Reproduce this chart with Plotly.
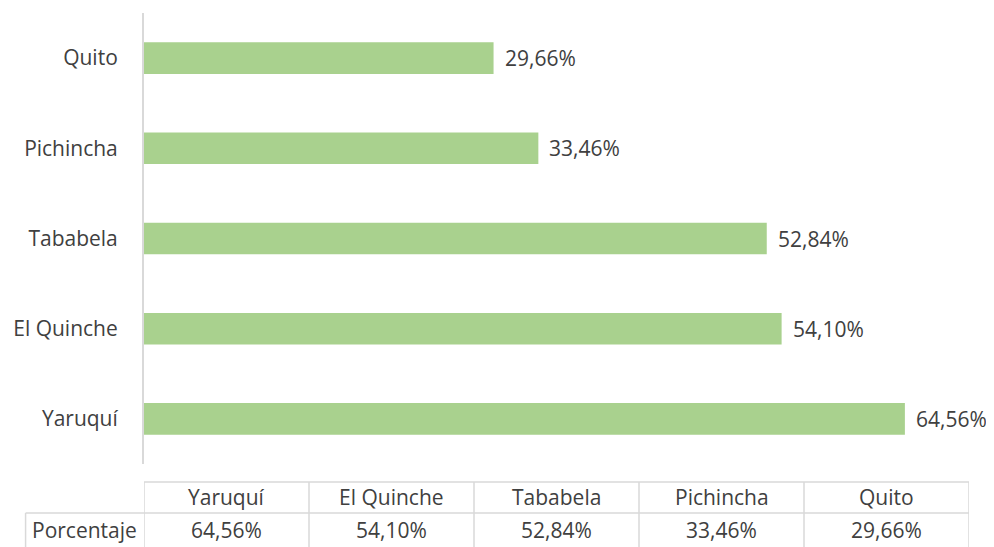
import plotly.graph_objects as go

categories = ["Yaruquí", "El Quinche", "Tababela", "Pichincha", "Quito"]
values = [64.56, 54.10, 52.84, 33.46, 29.66]
value_labels = ["64,56%", "54,10%", "52,84%", "33,46%", "29,66%"]
row_title = "Porcentaje"
axis_max = 70

OFF = 8  # page body margin
W, H = 994 - OFF, 547 - OFF
ml, mr, mt, mb = 140 - OFF, 25, 13 - OFF, 547 - 464
pw = W - ml - mr
ph = H - mt - mb

def py(y_page):
    y = y_page - OFF
    return (H - mb - y) / ph

def px(x_page):
    x = x_page - OFF
    return (x - ml) / pw

font_family = "Open Sans, sans-serif"
txt_col = "#404040"
grid_col = "#d9d9d9"
fs = 21

fig = go.Figure()
fig.add_trace(go.Bar(
    y=categories, x=values, orientation="h",
    marker=dict(color="#a9d18e", line=dict(width=0)),
    width=0.35, hoverinfo="skip",
))

shapes = []
annotations = []
n = len(categories)
colw = axis_max / n
top, mid, bot = py(482), py(513), py(560)
line = dict(color=grid_col, width=1.5)
shapes.append(dict(type="line", xref="x", yref="paper", x0=0, x1=axis_max, y0=top, y1=top, line=line))
shapes.append(dict(type="line", xref="paper", yref="paper", x0=px(21), x1=1, y0=mid, y1=mid, line=line))
shapes.append(dict(type="line", xref="paper", yref="paper", x0=px(21), x1=px(21), y0=mid, y1=bot, line=line))
for i in range(n + 1):
    shapes.append(dict(type="line", xref="x", yref="paper", x0=i * colw, x1=i * colw, y0=top, y1=bot, line=line))

row2_c = py(530)
row1_c = py(497)
for i, (c, v) in enumerate(zip(categories, value_labels)):
    xc = (i + 0.5) * colw
    annotations.append(dict(x=xc, y=row1_c, xref="x", yref="paper", text=c, showarrow=False,
                            font=dict(size=fs, color=txt_col, family=font_family), xanchor="center", yanchor="middle"))
    annotations.append(dict(x=xc, y=row2_c, xref="x", yref="paper", text=v, showarrow=False,
                            font=dict(size=fs, color=txt_col, family=font_family), xanchor="center", yanchor="middle"))
annotations.append(dict(x=px(25), y=row2_c, xref="paper", yref="paper", text=row_title,
                        showarrow=False, font=dict(size=fs, color=txt_col, family=font_family),
                        xanchor="left", yanchor="middle"))
# data labels
for c, val, lab in zip(categories, values, value_labels):
    annotations.append(dict(x=val, y=c, xref="x", yref="y", text=lab, showarrow=False,
                            xanchor="left", yanchor="middle", xshift=9,
                            font=dict(size=fs, color=txt_col, family=font_family)))

fig.update_layout(
    width=W, height=H,
    margin=dict(l=ml, r=mr, t=mt, b=mb),
    paper_bgcolor="white", plot_bgcolor="white",
    showlegend=False,
    xaxis=dict(range=[0, axis_max], visible=False, fixedrange=True),
    yaxis=dict(categoryorder="array", categoryarray=categories, showgrid=False,
               showline=True, linecolor=grid_col, linewidth=2, ticks="",
               ticklabelstandoff=20,
               tickfont=dict(size=fs, color=txt_col, family=font_family)),
    shapes=shapes, annotations=annotations,
)

fig.write_html("out.html")
